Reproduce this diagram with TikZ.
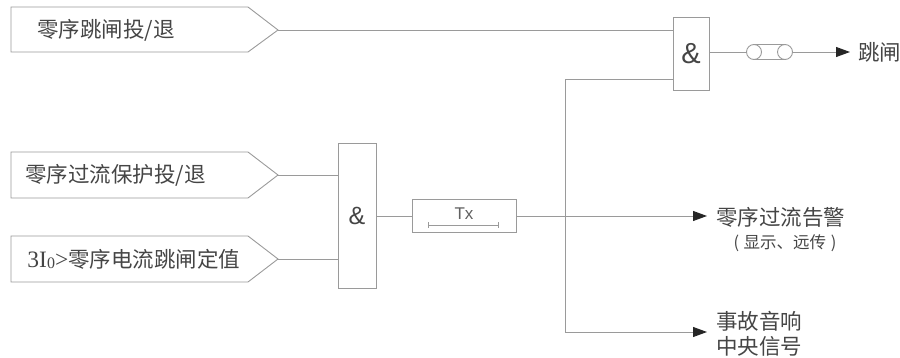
\documentclass[tikz,border=0pt]{standalone}
\usepackage{fontspec}
\setmainfont{Noto Sans CJK SC}
\newfontfamily\serifnum{Liberation Serif}
\newfontfamily\latinsans{Liberation Sans}
\usetikzlibrary{arrows.meta}
\definecolor{ln}{HTML}{9A9A9A}
\definecolor{tx}{HTML}{454545}
\begin{document}
\begin{tikzpicture}[x=1pt,y=-1pt,line width=0.9pt,color=ln,
  lbl/.style={text=tx,font=\fontsize{21.5}{24.5}\selectfont,inner sep=0pt},
  gate/.style={draw=ln,fill=white,text=tx,font=\latinsans\fontsize{29}{29}\selectfont,inner sep=0pt,minimum width=36pt},
  arr/.style={-{Triangle[length=14pt,width=10pt,color=black!85]},draw=ln}]
\useasboundingbox (0,0) rectangle (900,358);
% input 1
\draw (11,7) -- (248,7) -- (278,30) coordinate (p1) -- (248,52) -- (11,52) -- cycle;
\node[lbl,anchor=west] (t1) at (37,30) {零序跳闸投/退};
% input 2
\draw (11,152) -- (248,152) -- (278,175) coordinate (p2) -- (248,198) -- (11,198) -- cycle;
\node[lbl,anchor=west] (t2) at (25,175) {零序过流保护投/退};
% input 3
\draw (11,236) -- (248,236) -- (278,259) coordinate (p3) -- (248,282) -- (11,282) -- cycle;
\node[lbl,anchor=west] (t3) at (27,259) {{\serifnum\fontsize{23.5}{24}\selectfont 3I\raisebox{-1.5pt}{\fontsize{16}{16}\selectfont 0}>}零序电流跳闸定值};
% AND gates
\node[gate,minimum height=73pt] (and1) at (691,53.5) {\&};
\node[gate,font=\latinsans\fontsize{25}{25}\selectfont,minimum width=38pt,minimum height=145pt] (and2) at (357,215.5) {\&};
% Tx
\node[draw=ln,fill=white,minimum width=104pt,minimum height=33pt,inner sep=0pt] (tx) at (464,216) {};
\node[text=tx!85,font=\latinsans\fontsize{17}{17}\selectfont,inner sep=0pt] (txl) at (464,214) {Tx};
\coordinate (tbl) at (428,225);
\coordinate (tbr) at (498,225);
\draw[line width=0.7pt] (tbl) -- (tbr);
\draw[line width=0.7pt] ([yshift=-3pt]tbl) -- ([yshift=3pt]tbl);
\draw[line width=0.7pt] ([yshift=-3pt]tbr) -- ([yshift=3pt]tbr);
% connections
\draw (p1) -- (and1.west |- p1);
\draw (p2) -- (and2.west |- p2);
\draw (p3) -- (and2.west |- p3);
\draw (and2.east |- tx) -- (tx.west);
\coordinate (v) at (565,79);
\coordinate (vb) at (565,332);
\draw (and1.west |- v) -- (v) -- (vb);
\coordinate (a2) at (707,216);
\coordinate (a3) at (707,332);
\draw[arr] (tx.east) -- (a2);
\draw[arr] (vb) -- (a3);
% fuse
\coordinate (fl) at (754,52);
\coordinate (fr) at (785,52);
\draw (and1.east |- fl) -- ([xshift=-7.5pt]fl);
\draw (fl) circle[radius=7.5pt];
\draw (fr) circle[radius=7.5pt];
\draw ([yshift=-7.5pt]fl) -- ([yshift=-7.5pt]fr);
\draw ([yshift=7.5pt]fl) -- ([yshift=7.5pt]fr);
\coordinate (a1) at (850,52);
\draw[arr] ([xshift=7.5pt]fr) -- (a1);
% outputs text
\node[lbl,anchor=west] (o1) at (858,52) {跳闸};
\node[lbl,anchor=west] (o2) at (716,217) {零序过流告警};
\node[lbl,font=\fontsize{16.5}{16.5}\selectfont] (o2b) at (785,243) {(\;显示、远传\;)};
\node[lbl,anchor=west,align=left] (o3) at (716,334) {事故音响\\中央信号};
\end{tikzpicture}
\end{document}
